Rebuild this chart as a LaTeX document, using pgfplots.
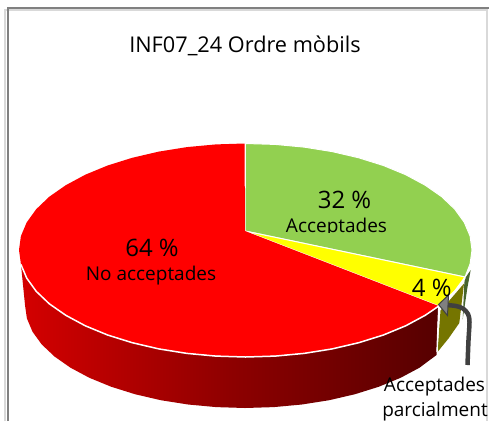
\documentclass[border=0pt]{standalone}
\usepackage{pgfplots}
\pgfplotsset{compat=1.18}
\usepackage{fontspec}
\setmainfont{Open Sans}
\definecolor{cgreen}{HTML}{92D050}
\definecolor{cyel}{RGB}{255,255,0}
\definecolor{cred}{RGB}{255,0,0}
\definecolor{cside1}{HTML}{D40000}
\definecolor{cside2}{HTML}{8E0000}
\definecolor{cside3}{HTML}{560000}
\definecolor{colive}{HTML}{757500}
\definecolor{cdgreen}{HTML}{46642E}
\definecolor{cframe}{HTML}{808080}
\definecolor{clight}{HTML}{D9D9D9}
\definecolor{carrow}{HTML}{404040}
\pgfdeclarehorizontalshading{sidered}{100bp}{color(0bp)=(cside1); color(25bp)=(cside1); color(50bp)=(cside2); color(75bp)=(cside3); color(100bp)=(cside3)}
\newcommand{\fs}[1]{\fontsize{#1}{#1}\selectfont}
\begin{document}
\begin{tikzpicture}
\path[use as bounding box] (0,0) rectangle (489pt,421pt);
\clip (0,0) rectangle (489pt,421pt);
\begin{axis}[
  scale only axis, width=489pt, height=421pt,
  xmin=0, xmax=489, ymin=0, ymax=421, y dir=reverse,
  hide axis, clip=true, axis on top=false]
% frame
\addplot[draw=clight, line width=2pt] coordinates {(5,421) (5,10) (487,10) (487,421)};
\addplot[draw=cframe, line width=2pt] coordinates {(7.5,421) (7.5,7.8) (489,7.8)};
% red side
\addplot[draw=none, shade, shading=sidered] coordinates {
(438.3,305.9) (425.2,314.8) (405.7,325.3) (383.4,334.5) (358.8,342.2) (332.2,348.4) (304.1,352.9) (275.1,355.6) (245.5,356.5)
(215.9,355.6) (186.9,352.9) (158.8,348.4) (132.2,342.2) (107.6,334.5) (85.3,325.3) (65.8,314.8) (49.3,303.3) (36.2,290.8) (26.7,277.6) (20.9,263.9)
(25,305) (26.9,318.4) (32.5,331.7) (41.7,344.4) (54.5,356.5) (70.5,367.7) (89.4,377.8) (111.1,386.7) (135,394.2) (160.8,400.2) (188.1,404.5) (216.3,407.1) (245,408)
(273.7,407.1) (301.9,404.5) (329.2,400.2) (355,394.2) (378.9,386.7) (400.6,377.8) (419.5,367.7) (436.5,355)} -- cycle;
% olive side
\addplot[draw=none, fill=colive] coordinates {
(440.5,310.5) (455,294) (464,283.5) (459.3,323) (448.5,338.5) (437.5,352)} -- cycle;
% dark green side
\addplot[draw=none, fill=cdgreen] coordinates {
(465,278.3) (470.7,270) (467.3,288.3) (462.7,319.3) (464.3,283.3)} -- cycle;
\addplot[draw=white, line width=1.4pt] coordinates {(438.8,306) (437,352)};
% green slice
\addplot[draw=white, line width=1pt, fill=cgreen] coordinates {
(245,231) (245.5,143.5) (275.1,144.4) (304.1,147.1) (332.2,151.6) (358.8,157.8) (383.4,165.5) (405.7,174.7) (425.2,185.2) (441.7,196.7) (454.8,209.2) (464.3,222.4) (470.1,236.1) (472,250) (470.1,263.9) (465,277)} -- cycle;
% yellow slice
\addplot[draw=white, line width=1pt, fill=cyel] coordinates {
(245,231) (465,277) (454.8,290.8) (441.7,303.3) (438.3,305.9)} -- cycle;
% red slice
\addplot[draw=none, fill=cred] coordinates {
(245,231) (438.3,305.9) (425.2,314.8) (405.7,325.3) (383.4,334.5) (358.8,342.2) (332.2,348.4) (304.1,352.9) (275.1,355.6) (245.5,356.5)
(215.9,355.6) (186.9,352.9) (158.8,348.4) (132.2,342.2) (107.6,334.5) (85.3,325.3) (65.8,314.8) (49.3,303.3) (36.2,290.8) (26.7,277.6) (20.9,263.9) (19,250)
(20.9,236.1) (26.7,222.4) (36.2,209.2) (49.3,196.7) (65.8,185.2) (85.3,174.7) (107.6,165.5) (132.2,157.8) (158.8,151.6) (186.9,147.1) (215.9,144.4) (244.5,143.5)} -- cycle;
% white rim
\addplot[draw=white, line width=1.5pt] coordinates {
(465,278) (454.8,291.5) (441.7,304) (438.3,306.4) (425.2,315.3) (405.7,325.8) (383.4,335) (358.8,342.7) (332.2,348.9) (304.1,353.4) (275.1,356.1) (245.5,357)
(215.9,356.1) (186.9,353.4) (158.8,348.9) (132.2,342.7) (107.6,335) (85.3,325.8) (65.8,315.3) (49.3,303.8) (36.2,291.3) (26.7,278.1) (20.9,264.4)};
% leader arrow
\addplot[draw=carrow, line width=4.5pt, smooth] coordinates {
(467.5,365) (468.5,340) (469.5,322) (468,314) (463,308.5) (456,306) (446,305)};
\addplot[draw=carrow, line width=1pt, fill=cframe] coordinates {
(438.5,304.5) (448.5,295) (447.5,315.5)} -- cycle;
% texts
\node[anchor=base] at (axis cs:245,52.7) {\fs{21.7}INF07\_24 Ordre mòbils};
\node[anchor=base] at (axis cs:152,256.5) {\fs{24}64 \%};
\node[anchor=base] at (axis cs:151,280) {\fs{19}No acceptades};
\node[anchor=base] at (axis cs:344.5,208) {\fs{24}32 \%};
\begin{scope}
\clip (axis cs:270,210) rectangle (axis cs:400,232.5);
\node[anchor=base] at (axis cs:336.5,232) {\fs{19}Acceptades};
\end{scope}
\node[anchor=base] at (axis cs:431.7,296.7) {\fs{24}4 \%};
\node[anchor=base] at (axis cs:434.5,391.7) {\fs{19}Acceptades};
\node[anchor=base] at (axis cs:435,416.7) {\fs{19}parcialment};
\end{axis}
\end{tikzpicture}
\end{document}
